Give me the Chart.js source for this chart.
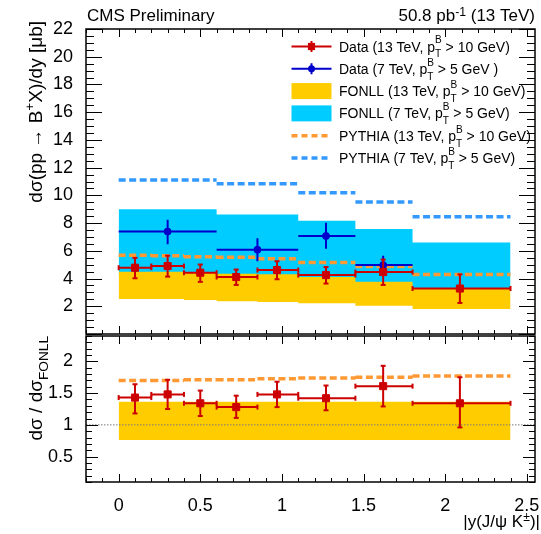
<!DOCTYPE html>
<html>
<head>
<meta charset="utf-8">
<script src="https://cdn.jsdelivr.net/npm/chart.js@4.4.1/dist/chart.umd.min.js"></script>
<style>
html, body { margin: 0; padding: 0; background: #fff; }
#wrap { position: relative; width: 541px; height: 534px; }
canvas { position: absolute; left: 0; }
</style>
</head>
<body>
<div id="wrap">
  <canvas id="ratio" width="541" height="204" style="top:330px"></canvas>
  <canvas id="main" width="541" height="340" style="top:0px"></canvas>
</div>
<script>
// 13 TeV measurement, |y| bins
var bins13 = [0, 0.2, 0.4, 0.6, 0.85, 1.1, 1.45, 1.8, 2.4];
var y13 = [0.1, 0.3, 0.5, 0.72, 0.97, 1.27, 1.62, 2.09];
var xsec13 = [4.78, 4.90, 4.42, 4.11, 4.61, 4.25, 4.47, 3.28];
var xsec13Up = [0.71, 0.75, 0.59, 0.54, 0.64, 0.58, 0.90, 1.02];
var xsec13Down = [0.76, 0.76, 0.66, 0.57, 0.66, 0.61, 0.93, 1.04];
var fonll13Hi = [4.49, 4.49, 4.42, 4.35, 4.31, 4.11, 3.76, 3.25];
var fonll13Lo = [2.52, 2.52, 2.45, 2.36, 2.31, 2.21, 2.03, 1.81];
var pythia13 = [5.68, 5.65, 5.58, 5.54, 5.42, 5.16, 4.87, 4.30];

// 7 TeV measurement and predictions
var bins7 = [0, 0.6, 1.1, 1.45, 1.8];
var y7 = [0.3, 0.85, 1.27, 1.62];
var xsec7 = [7.39, 6.08, 7.07, 4.97];
var xsec7Up = [0.85, 0.83, 0.96, 0.68];
var xsec7Down = [0.91, 0.83, 0.92, 0.55];
var binsTh7 = [0, 0.6, 1.1, 1.45, 1.8, 2.4];
var fonll7Hi = [9.0, 8.62, 8.17, 7.57, 6.6];
var fonll7Lo = [4.2, 4.0, 3.8, 3.5, 3.3];
var pythia7 = [11.11, 10.83, 10.19, 9.52, 8.46];

// ratio to FONLL (13 TeV)
var ratio13 = [1.43, 1.48, 1.34, 1.28, 1.48, 1.42, 1.61, 1.34];
var ratio13Up = [0.21, 0.23, 0.20, 0.18, 0.20, 0.20, 0.32, 0.41];
var ratio13Down = [0.25, 0.23, 0.20, 0.17, 0.20, 0.19, 0.32, 0.38];
var ratioFonllHi = [1.365, 1.365, 1.365, 1.365, 1.365, 1.365, 1.365, 1.365];
var ratioFonllLo = [0.76, 0.76, 0.76, 0.76, 0.76, 0.76, 0.76, 0.76];
var ratioPythia = [1.70, 1.70, 1.71, 1.71, 1.725, 1.74, 1.75, 1.77];

// axes
var xRange = [-0.2, 2.55];
var xTicks = [0, 0.5, 1, 1.5, 2, 2.5];
var yRangeMain = [0, 22];
var yTicksMain = [2, 4, 6, 8, 10, 12, 14, 16, 18, 20, 22];
var yRangeRatio = [0.1, 2.4];
var yTicksRatio = [0.5, 1, 1.5, 2];

var legendLabels = [
  ['Data (13 TeV, p', {sup: 'B', sub: 'T'}, ' > 10 GeV)'],
  ['Data (7 TeV, p', {sup: 'B', sub: 'T'}, ' > 5 GeV )'],
  ['FONLL (13 TeV, p', {sup: 'B', sub: 'T'}, ' > 10 GeV)'],
  ['FONLL (7 TeV, p', {sup: 'B', sub: 'T'}, ' > 5 GeV)'],
  ['PYTHIA (13 TeV, p', {sup: 'B', sub: 'T'}, ' > 10 GeV)'],
  ['PYTHIA (7 TeV, p', {sup: 'B', sub: 'T'}, ' > 5 GeV)']
];

var FONT = '"Liberation Sans", Arial, Helvetica, sans-serif';
var RED = '#cc0000', BLUE = '#0000cc', YELLOW = '#ffcc00', CYAN = '#00ccff';
var ORANGE_D = '#ff9933', BLUE_D = '#3399ff';
var SCRIPT = 0.72;

Chart.defaults.font.family = FONT;
Chart.defaults.color = '#000';

// --- helpers turning the arrays into line data ---
function steps(edges, vals) {
  var pts = vals.map(function (v, i) { return {x: edges[i], y: v}; });
  pts.push({x: edges[vals.length], y: vals[vals.length - 1]});
  return pts;
}
function flats(edges, vals) {
  var pts = [];
  vals.forEach(function (v, i) {
    pts.push({x: edges[i], y: v}, {x: edges[i + 1], y: v}, {x: edges[i + 1], y: null});
  });
  return pts;
}
function vbars(xs, vals, up, down) {
  var pts = [];
  xs.forEach(function (x, i) {
    pts.push({x: x, y: vals[i] + up[i]}, {x: x, y: vals[i] - down[i]}, {x: x, y: null});
  });
  return pts;
}
function markers(xs, vals) {
  return xs.map(function (x, i) { return {x: x, y: vals[i]}; });
}

function errSets(edges, xs, vals, up, down, color, caps, order) {
  var base = {borderColor: color, borderWidth: 2, pointStyle: 'line', pointBorderColor: color,
    pointBorderWidth: 2, pointRadius: caps ? 2.5 : 0, order: order};
  return [
    Object.assign({data: vbars(xs, vals, up, down)}, base),
    Object.assign({data: flats(edges, vals), pointRotation: 90}, base)
  ];
}
function bandSets(edges, hi, lo, color, order) {
  return [
    {data: steps(edges, hi), stepped: true, fill: '+1', backgroundColor: color,
      borderColor: 'rgba(0,0,0,0)', borderWidth: 0, pointRadius: 0, order: order},
    {data: steps(edges, lo), stepped: true, fill: false,
      borderColor: 'rgba(0,0,0,0)', borderWidth: 0, pointRadius: 0, order: order}
  ];
}
function dashed(edges, vals, color, order) {
  return {data: flats(edges, vals), borderColor: color, borderWidth: 3.5,
    borderDash: [7, 3.5], pointRadius: 0, order: order};
}

// --- rich text (sub/superscripts) ---
function partWidth(ctx, p, size) {
  if (typeof p === 'string') {
    ctx.font = size + 'px ' + FONT;
    return ctx.measureText(p).width;
  }
  ctx.font = (size * SCRIPT) + 'px ' + FONT;
  return Math.max(p.sup ? ctx.measureText(p.sup).width : 0, p.sub ? ctx.measureText(p.sub).width : 0);
}
function drawRich(ctx, parts, x, y, size, align) {
  var w = 0;
  parts.forEach(function (p) { w += partWidth(ctx, p, size); });
  var cx = align === 'right' ? x - w : x;
  ctx.textAlign = 'left';
  ctx.textBaseline = 'alphabetic';
  ctx.fillStyle = '#000';
  parts.forEach(function (p) {
    var pw = partWidth(ctx, p, size);
    if (typeof p === 'string') {
      ctx.fillText(p, cx, y);
    } else {
      if (p.sup) ctx.fillText(p.sup, cx, y - size * (p.up !== undefined ? p.up : 0.58));
      if (p.sub) ctx.fillText(p.sub, cx, y + size * (p.down !== undefined ? p.down : 0.42));
    }
    cx += pw;
  });
}

// ROOT-like frame with inward ticks on all four sides
var rootFrame = {
  id: 'rootFrame',
  afterDatasetsDraw: function (chart, args, o) {
    var ctx = chart.ctx, a = chart.chartArea, xs = chart.scales.x, ys = chart.scales.y;
    ctx.save();
    ctx.strokeStyle = '#000';
    ctx.lineWidth = 1;
    ctx.beginPath();
    function loop(min, max, minor, major, fn) {
      for (var k = Math.ceil(min / minor - 1e-6); k * minor <= max + 1e-9; k++) {
        var v = k * minor;
        var r = v / major;
        fn(v, Math.abs(r - Math.round(r)) < 1e-6);
      }
    }
    loop(xs.min, xs.max, o.xMinor, o.xMajor, function (v, maj) {
      var px = Math.round(xs.getPixelForValue(v)) + 0.5;
      var len = maj ? o.xMajLen : o.xMinLen;
      ctx.moveTo(px, a.bottom); ctx.lineTo(px, a.bottom - len);
      ctx.moveTo(px, a.top); ctx.lineTo(px, a.top + len);
    });
    loop(ys.min, ys.max, o.yMinor, o.yMajor, function (v, maj) {
      var py = Math.round(ys.getPixelForValue(v)) + 0.5;
      var len = maj ? o.yMajLen : o.yMinLen;
      ctx.moveTo(a.left, py); ctx.lineTo(a.left + len, py);
      ctx.moveTo(a.right, py); ctx.lineTo(a.right - len, py);
    });
    ctx.stroke();
    ctx.lineWidth = 1.5;
    ctx.strokeRect(a.left, a.top, a.right - a.left, a.bottom - a.top);
    ctx.restore();
  }
};

function yAxis(range, ticks) {
  return {
    type: 'linear', min: range[0], max: range[1],
    grid: {display: false}, border: {display: false},
    ticks: {font: {size: 18}, padding: 5, callback: function (v) { return String(v); }},
    afterBuildTicks: function (s) { s.ticks = ticks.map(function (v) { return {value: v}; }); },
    afterFit: function (s) { s.width = 86; s.paddingTop = 0; s.paddingBottom = 0; }
  };
}

// --- main panel ---
var mainSets = []
  .concat([{data: markers(y13, xsec13), showLine: false, pointStyle: 'rect', pointRadius: 5,
    pointBackgroundColor: RED, pointBorderColor: RED, order: 1}])
  .concat(errSets(bins13, y13, xsec13, xsec13Up, xsec13Down, RED, true, 2))
  .concat([{data: markers(y7, xsec7), showLine: false, pointStyle: 'circle', pointRadius: 3.5,
    pointBackgroundColor: BLUE, pointBorderColor: BLUE, order: 3}])
  .concat(errSets(bins7, y7, xsec7, xsec7Up, xsec7Down, BLUE, false, 4))
  .concat([dashed(binsTh7, pythia7, BLUE_D, 5), dashed(bins13, pythia13, ORANGE_D, 6)])
  .concat(bandSets(bins13, fonll13Hi, fonll13Lo, YELLOW, 7))
  .concat(bandSets(binsTh7, fonll7Hi, fonll7Lo, CYAN, 8));

var mainText = {
  id: 'mainText',
  afterDraw: function (chart) {
    var ctx = chart.ctx;
    ctx.save();
    drawRich(ctx, ['CMS Preliminary'], 87, 21, 17, 'left');
    drawRich(ctx, ['50.8 pb', {sup: '-1', up: 0.3}, ' (13 TeV)'], 535, 21, 17, 'right');

    ctx.save();
    ctx.translate(42, 21);
    ctx.rotate(-Math.PI / 2);
    drawRich(ctx, ['d\u03c3(pp \u2192 B', {sup: '+', up: 0.4}, 'X)/dy [\u03bcb]'], 0, 0, 19, 'right');
    ctx.restore();

    // legend
    var x0 = 291.5, x1 = 331.5, xc = (x0 + x1) / 2;
    legendLabels.forEach(function (lab, i) {
      var yc = 46.5 + i * 22.3;
      ctx.setLineDash([]);
      if (i < 2) {
        var c = i === 0 ? RED : BLUE;
        ctx.strokeStyle = c; ctx.fillStyle = c; ctx.lineWidth = 2;
        ctx.beginPath();
        ctx.moveTo(x0, yc); ctx.lineTo(x1, yc);
        ctx.moveTo(xc, yc - 5.5); ctx.lineTo(xc, yc + 5.5);
        ctx.stroke();
        ctx.beginPath();
        if (i === 0) ctx.rect(xc - 3.6, yc - 3.6, 7.2, 7.2);
        else ctx.arc(xc, yc, 3.5, 0, 2 * Math.PI);
        ctx.fill();
      } else if (i < 4) {
        ctx.fillStyle = i === 2 ? YELLOW : CYAN;
        ctx.fillRect(x0, yc - 8, x1 - x0, 16);
      } else {
        ctx.strokeStyle = i === 4 ? ORANGE_D : BLUE_D;
        ctx.lineWidth = 3.5;
        ctx.setLineDash([6, 4]);
        ctx.beginPath();
        ctx.moveTo(x0, yc); ctx.lineTo(x1, yc);
        ctx.stroke();
        ctx.setLineDash([]);
      }
      drawRich(ctx, lab, 339, yc + 5, 14, 'left');
    });
    ctx.restore();
  }
};

new Chart(document.getElementById('main'), {
  type: 'line',
  data: {datasets: mainSets},
  options: {
    responsive: false, animation: false, events: [],
    layout: {padding: {left: 0, right: 6, top: 29, bottom: 4}},
    elements: {line: {tension: 0}},
    scales: {
      x: {type: 'linear', min: xRange[0], max: xRange[1], display: false},
      y: yAxis(yRangeMain, yTicksMain)
    },
    plugins: {
      legend: {display: false}, tooltip: {enabled: false},
      rootFrame: {xMinor: 0.1, xMajor: 0.5, xMajLen: 8, xMinLen: 4,
        yMinor: 0.5, yMajor: 2, yMajLen: 16, yMinLen: 8}
    }
  },
  plugins: [rootFrame, mainText]
});

// --- ratio panel ---
var ratioSets = []
  .concat([{data: markers(y13, ratio13), showLine: false, pointStyle: 'rect', pointRadius: 5,
    pointBackgroundColor: RED, pointBorderColor: RED, order: 1}])
  .concat(errSets(bins13, y13, ratio13, ratio13Up, ratio13Down, RED, true, 2))
  .concat([{data: [{x: xRange[0], y: 1}, {x: xRange[1], y: 1}], borderColor: '#777',
    borderWidth: 1, borderDash: [1.5, 1.5], pointRadius: 0, order: 4}])
  .concat([dashed(bins13, ratioPythia, ORANGE_D, 5)])
  .concat(bandSets(bins13, ratioFonllHi, ratioFonllLo, YELLOW, 6));

var ratioText = {
  id: 'ratioText',
  afterDraw: function (chart) {
    var ctx = chart.ctx;
    ctx.save();
    ctx.translate(42, 6);
    ctx.rotate(-Math.PI / 2);
    drawRich(ctx, ['d\u03c3 / d\u03c3', {sub: 'FONLL', down: 0.3}], 0, 0, 19, 'right');
    ctx.restore();
    drawRich(ctx, ['|y(J/\u03c8 K', {sup: '\u00b1', up: 0.38}, ')|'], 540, 197, 17, 'right');
    ctx.restore();
  }
};

var xr = {
  type: 'linear', min: xRange[0], max: xRange[1],
  grid: {display: false}, border: {display: false},
  ticks: {font: {size: 18}, padding: 5, maxRotation: 0, autoSkip: false,
    callback: function (v) { return String(v); }},
  afterBuildTicks: function (s) { s.ticks = xTicks.map(function (v) { return {value: v}; }); },
  afterFit: function (s) { s.height = 52; s.paddingLeft = 0; s.paddingRight = 0; }
};

new Chart(document.getElementById('ratio'), {
  type: 'line',
  data: {datasets: ratioSets},
  options: {
    responsive: false, animation: false, events: [],
    layout: {padding: {left: 0, right: 6, top: 6, bottom: 0}},
    elements: {line: {tension: 0}},
    scales: {x: xr, y: yAxis(yRangeRatio, yTicksRatio)},
    plugins: {
      legend: {display: false}, tooltip: {enabled: false},
      rootFrame: {xMinor: 0.1, xMajor: 0.5, xMajLen: 8, xMinLen: 4,
        yMinor: 0.1, yMajor: 0.5, yMajLen: 12, yMinLen: 6}
    }
  },
  plugins: [rootFrame, ratioText]
});
</script>
</body>
</html>
